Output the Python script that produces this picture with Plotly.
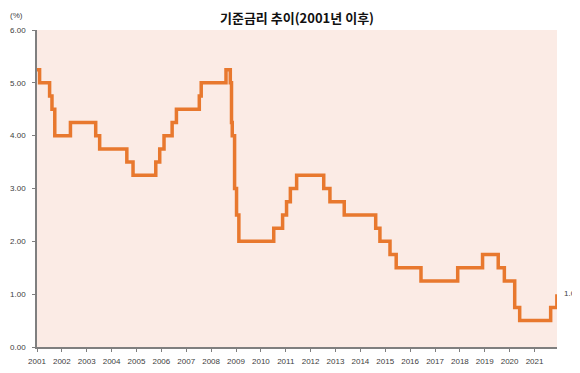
import plotly.graph_objects as go

dates = ["2001-01-01", "2001-02-08", "2001-07-05", "2001-08-09", "2001-09-19",
         "2002-05-07", "2003-05-13", "2003-07-10", "2004-08-12", "2004-11-11",
         "2005-10-11", "2005-12-08", "2006-02-09", "2006-06-08", "2006-08-10",
         "2007-07-12", "2007-08-09", "2008-08-07", "2008-10-09", "2008-10-27",
         "2008-11-07", "2008-12-11", "2009-01-09", "2009-02-12", "2010-07-09",
         "2010-11-16", "2011-01-13", "2011-03-10", "2011-06-10", "2012-07-12",
         "2012-10-11", "2013-05-09", "2014-08-14", "2014-10-15", "2015-03-12",
         "2015-06-11", "2016-06-09", "2017-11-30", "2018-11-30", "2019-07-18",
         "2019-10-16", "2020-03-16", "2020-05-28", "2021-08-26", "2021-11-25"]
rates = [5.25, 5.00, 4.75, 4.50, 4.00,
         4.25, 4.00, 3.75, 3.50, 3.25,
         3.50, 3.75, 4.00, 4.25, 4.50,
         4.75, 5.00, 5.25, 5.00, 4.25,
         4.00, 3.00, 2.50, 2.00, 2.25,
         2.50, 2.75, 3.00, 3.25, 3.00,
         2.75, 2.50, 2.25, 2.00, 1.75,
         1.50, 1.25, 1.50, 1.75, 1.50,
         1.25, 0.75, 0.50, 0.75, 1.00]
years = list(range(2001, 2022))
tick_dates = [f"{y}-01-01" for y in years]
tick_text = [str(y) for y in years]
title = "기준금리 추이(2001년 이후)"
unit = "(%)"
end_label = "1.00"

line_color = "#E8782E"
tick_font = dict(family="Liberation Sans", size=8, color="#404040")

fig = go.Figure()
fig.add_trace(go.Scatter(
    x=dates, y=rates, mode="lines", line_shape="hv",
    line=dict(color=line_color, width=3.5), hoverinfo="skip", showlegend=False))

fig.add_annotation(x=dates[-1], y=rates[-1], text=end_label, showarrow=False,
                   xanchor="left", yanchor="middle", xshift=5, yshift=1, font=tick_font)
fig.add_annotation(xref="paper", yref="paper", x=-0.0385, y=1.047, text=unit,
                   xanchor="center", yanchor="middle", showarrow=False, font=tick_font)

# the page body adds an 8px offset, so the figure is sized 8px smaller
fig.update_layout(
    width=572, height=365,
    margin=dict(l=29, r=23, t=22, b=26),
    paper_bgcolor="white",
    plot_bgcolor="#FBEBE5",
    title=dict(text=f"<b>{title}</b>", x=0.5, xanchor="center", xref="paper",
               y=1 - 10 / 365, yanchor="middle",
               font=dict(family="Noto Sans CJK KR", size=13, color="#111111")),
)
fig.update_xaxes(
    range=["2001-01-01", "2021-11-27"], tickvals=tick_dates, ticktext=tick_text,
    showgrid=False, zeroline=False, showline=True, linecolor="#7F7F7F", linewidth=1.5,
    ticks="outside", ticklen=3, tickcolor="#7F7F7F", tickfont=tick_font,
    ticklabelstandoff=3, automargin=False,
)
fig.update_yaxes(
    range=[0, 6], dtick=1, tickformat=".2f",
    showgrid=False, zeroline=False, showline=True, linecolor="#7F7F7F", linewidth=1.5,
    ticks="outside", ticklen=3, tickcolor="#7F7F7F", tickfont=tick_font,
    ticklabelstandoff=5, automargin=False,
)

fig.write_html("out.html")
